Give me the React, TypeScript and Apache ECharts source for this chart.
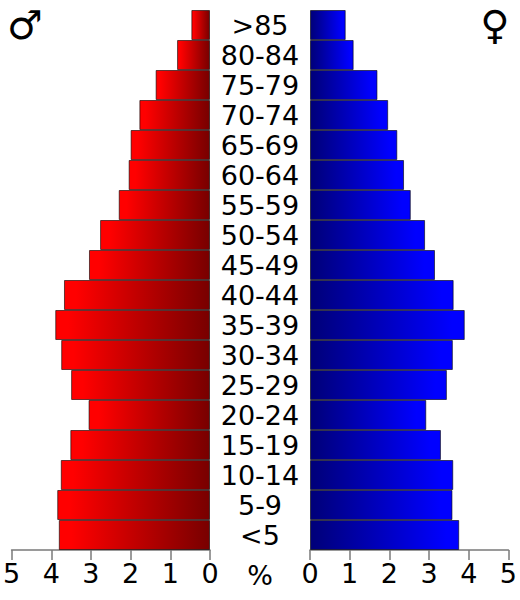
import React, { useEffect, useRef } from "react";
import * as echarts from "echarts";

const ageGroups = [">85","80-84","75-79","70-74","65-69","60-64","55-59","50-54","45-49","40-44","35-39","30-34","25-29","20-24","15-19","10-14","5-9","<5"];
const maleValues = [0.47,0.83,1.37,1.78,2.0,2.05,2.3,2.77,3.05,3.68,3.9,3.75,3.5,3.06,3.52,3.76,3.85,3.81];
const femaleValues = [0.9,1.1,1.7,1.97,2.2,2.37,2.54,2.9,3.15,3.62,3.9,3.6,3.45,2.93,3.3,3.61,3.59,3.76];
const FONT = "DejaVu Sans";

const grad = (stops: [number, string][]) => new echarts.graphic.LinearGradient(0, 0, 1, 0, stops.map(([offset, color]) => ({ offset, color })));

const xAxisBase = {
  type: "value", min: 0, max: 5, interval: 1,
  axisLine: { show: true, onZero: false, lineStyle: { color: "#7a7a7a", width: 1.5 } },
  axisTick: { show: true, length: 10, lineStyle: { color: "#7a7a7a", width: 1.5 } },
  axisLabel: { fontFamily: FONT, fontSize: 27, color: "#000", margin: 10, showMinLabel: true, showMaxLabel: true, hideOverlap: false },
  splitLine: { show: false },
};

export default function App() {
  const ref = useRef<HTMLDivElement>(null);
  useEffect(() => {
    const chart = echarts.init(ref.current!, null, { renderer: "svg" });
    chart.setOption({
      animation: false,
      backgroundColor: "#fff",
      grid: [
        { left: 10, top: 10, width: 200, height: 540 },
        { left: 310, top: 10, width: 200, height: 540 },
      ],
      xAxis: [
        { ...xAxisBase, gridIndex: 0, inverse: true },
        { ...xAxisBase, gridIndex: 1 },
      ],
      yAxis: [
        {
          type: "category", gridIndex: 0, data: ageGroups, inverse: true, position: "right",
          axisLine: { show: false }, axisTick: { show: false },
          axisLabel: { fontFamily: FONT, fontSize: 27, color: "#000", margin: 50, align: "center", interval: 0 },
        },
        {
          type: "category", gridIndex: 1, data: ageGroups, inverse: true,
          axisLine: { show: false }, axisTick: { show: false }, axisLabel: { show: false },
        },
      ],
      series: [
        {
          type: "bar", xAxisIndex: 0, yAxisIndex: 0, data: maleValues, barWidth: "100%",
          itemStyle: { color: grad([[0, "#ff0000"], [0.08, "#ff0000"], [1, "#780000"]]), borderColor: "rgba(0,0,0,0.6)", borderWidth: 1 },
        },
        {
          type: "bar", xAxisIndex: 1, yAxisIndex: 1, data: femaleValues, barWidth: "100%",
          itemStyle: { color: grad([[0, "#000078"], [0.92, "#0000ff"], [1, "#0000ff"]]), borderColor: "rgba(0,0,0,0.6)", borderWidth: 1 },
        },
      ],
      graphic: [
        { type: "text", x: 260, y: 575, style: { text: "%", fontFamily: FONT, fontSize: 27, fill: "#000", align: "center", verticalAlign: "middle" } },
        { type: "text", x: 25, y: 25, style: { text: "♂", fontFamily: FONT, fontSize: 40, fill: "#000", align: "center", verticalAlign: "middle" } },
        { type: "text", x: 495, y: 25, style: { text: "♀", fontFamily: FONT, fontSize: 40, fill: "#000", align: "center", verticalAlign: "middle" } },
      ],
    });
    return () => chart.dispose();
  }, []);
  return <div ref={ref} style={{ position: "absolute", left: 0, top: 0, width: 520, height: 600 }} />;
}
